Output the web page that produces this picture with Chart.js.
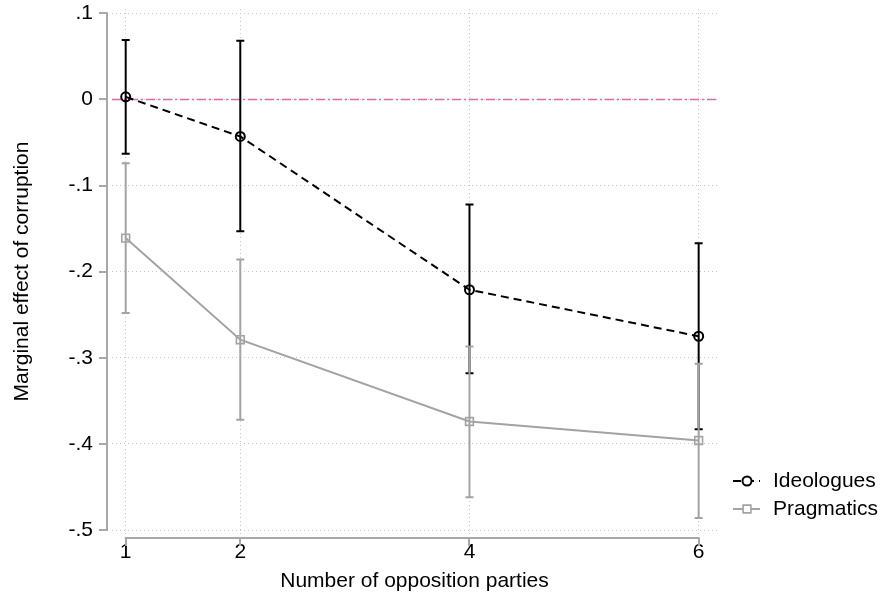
<!DOCTYPE html>
<html>
<head>
<meta charset="utf-8">
<script src="https://cdn.jsdelivr.net/npm/chart.js@4"></script>
<style>
  html, body { margin: 0; padding: 0; background: #fff; }
</style>
</head>
<body>
<canvas id="myChart" width="882" height="603"></canvas>
<script>
var parties = [1, 2, 4, 6]
var ideologues = [0.003, -0.043, -0.221, -0.275]
var ideologuesLow = [-0.063, -0.153, -0.318, -0.383]
var ideologuesHigh = [0.069, 0.068, -0.122, -0.167]
var pragmatics = [-0.161, -0.279, -0.374, -0.396]
var pragmaticsLow = [-0.248, -0.372, -0.462, -0.486]
var pragmaticsHigh = [-0.074, -0.186, -0.287, -0.307]
var xTicks = [1, 2, 4, 6]
var yTicks = [-0.5, -0.4, -0.3, -0.2, -0.1, 0, 0.1]
var yTickLabels = ['-.5', '-.4', '-.3', '-.2', '-.1', '0', '.1']

var fontFamily = "'Liberation Sans', Arial, sans-serif"
Chart.defaults.font.family = fontFamily
Chart.defaults.font.size = 21
Chart.defaults.color = '#000'

// zero line + confidence interval caps, under the lines
var errorBars = {
      id: 'errorBars',
      beforeDatasetsDraw: function (chart) {
            var ctx = chart.ctx, a = chart.chartArea
            var xs = chart.scales.x, ys = chart.scales.y
            ctx.save()
            var y0 = ys.getPixelForValue(0)
            ctx.strokeStyle = '#d86aae'
            ctx.lineWidth = 1.4
            ctx.setLineDash([9, 3, 2, 3])
            ctx.beginPath()
            ctx.moveTo(a.left, y0)
            ctx.lineTo(a.right, y0)
            ctx.stroke()
            ctx.setLineDash([])
            chart.data.datasets.forEach(function (ds) {
                  ctx.strokeStyle = ds.borderColor
                  ctx.lineWidth = 2
                  ds.data.forEach(function (p, i) {
                        var x = xs.getPixelForValue(p.x)
                        var yl = ys.getPixelForValue(ds.low[i])
                        var yh = ys.getPixelForValue(ds.high[i])
                        ctx.beginPath()
                        ctx.moveTo(x, yl); ctx.lineTo(x, yh)
                        ctx.moveTo(x - 4, yl); ctx.lineTo(x + 4, yl)
                        ctx.moveTo(x - 4, yh); ctx.lineTo(x + 4, yh)
                        ctx.stroke()
                  })
            })
            ctx.restore()
      }
}

// stata style axis lines, offset from the plot region
var stataAxes = {
      id: 'stataAxes',
      afterDraw: function (chart) {
            var ctx = chart.ctx, a = chart.chartArea
            var xs = chart.scales.x, ys = chart.scales.y
            var ax = Math.round(a.left) - 5, ay = Math.round(a.bottom) + 4
            ctx.save()
            ctx.strokeStyle = '#a8a8a8'
            ctx.lineWidth = 2
            ctx.beginPath()
            ctx.moveTo(ax, ys.getPixelForValue(yTicks[0]) + 1)
            ctx.lineTo(ax, ys.getPixelForValue(yTicks[yTicks.length - 1]) - 1)
            yTicks.forEach(function (v) {
                  var y = Math.round(ys.getPixelForValue(v))
                  ctx.moveTo(ax, y); ctx.lineTo(ax - 8, y)
            })
            ctx.moveTo(xs.getPixelForValue(xTicks[0]) - 1, ay)
            ctx.lineTo(xs.getPixelForValue(xTicks[xTicks.length - 1]) + 1, ay)
            xTicks.forEach(function (v) {
                  var x = Math.round(xs.getPixelForValue(v))
                  ctx.moveTo(x, ay); ctx.lineTo(x, ay + 8)
            })
            ctx.stroke()
            ctx.restore()
      }
}

var stataLegend = {
      id: 'stataLegend',
      afterDraw: function (chart) {
            var ctx = chart.ctx, a = chart.chartArea
            ctx.save()
            chart.data.datasets.forEach(function (ds, i) {
                  var y = a.bottom - 53 + i * 28
                  var x0 = a.right + 16
                  ctx.strokeStyle = ds.borderColor
                  ctx.lineWidth = ds.borderWidth
                  ctx.setLineDash(ds.borderDash || [])
                  ctx.beginPath()
                  ctx.moveTo(x0, y); ctx.lineTo(x0 + 27, y)
                  ctx.stroke()
                  ctx.setLineDash([])
                  ctx.fillStyle = '#fff'
                  ctx.lineWidth = ds.pointBorderWidth
                  ctx.beginPath()
                  if (ds.pointStyle === 'rect') {
                        var s = ds.pointRadius * Math.SQRT1_2
                        ctx.rect(x0 + 14 - s, y - s, 2 * s, 2 * s)
                  } else {
                        ctx.arc(x0 + 14, y, ds.pointRadius, 0, Math.PI * 2)
                  }
                  ctx.fill(); ctx.stroke()
                  ctx.fillStyle = '#000'
                  ctx.font = '21px ' + fontFamily
                  ctx.textBaseline = 'middle'
                  ctx.fillText(ds.label, x0 + 40, y)
            })
            ctx.restore()
      }
}

function toPoints(ys) {
      return parties.map(function (x, i) { return { x: x, y: ys[i] } })
}

var ctx = document.getElementById('myChart')
var myChart = new Chart(ctx, {
      type: 'line',
      data: {
            datasets: [{
                  label: 'Ideologues',
                  data: toPoints(ideologues),
                  low: ideologuesLow,
                  high: ideologuesHigh,
                  borderColor: '#000',
                  borderWidth: 2,
                  borderDash: [8, 5],
                  fill: false,
                  lineTension: 0,
                  pointStyle: 'circle',
                  pointRadius: 4.5,
                  pointBorderWidth: 2,
                  pointBorderColor: '#000',
                  pointBackgroundColor: 'rgba(0,0,0,0)'
            }, {
                  label: 'Pragmatics',
                  data: toPoints(pragmatics),
                  low: pragmaticsLow,
                  high: pragmaticsHigh,
                  borderColor: '#a3a3a3',
                  borderWidth: 2,
                  fill: false,
                  lineTension: 0,
                  pointStyle: 'rect',
                  pointRadius: 5.5,
                  pointBorderWidth: 1.6,
                  pointBorderColor: '#a3a3a3',
                  pointBackgroundColor: 'rgba(0,0,0,0)'
            }]
      },
      options: {
            animation: false,
            responsive: false,
            layout: { padding: { top: 9, right: 165, bottom: 0, left: 0 } },
            plugins: {
                  legend: { display: false },
                  tooltip: { enabled: false }
            },
            scales: {
                  x: {
                        type: 'linear',
                        min: 0.8805,
                        max: 6.16,
                        afterBuildTicks: function (scale) {
                              scale.ticks = xTicks.map(function (v) { return { value: v } })
                        },
                        afterFit: function (scale) {
                              scale.height = 69
                              scale.paddingLeft = 0; scale.paddingRight = 0
                        },
                        grid: { color: '#c8c8c8', drawTicks: false },
                        border: { display: false, dash: [1, 3] },
                        ticks: {
                              padding: 6,
                              maxRotation: 0,
                              callback: function (v) { return String(v) }
                        },
                        title: {
                              display: true,
                              text: 'Number of opposition parties',
                              padding: { top: 0, bottom: 9 }
                        }
                  },
                  y: {
                        type: 'linear',
                        min: -0.5046,
                        max: 0.105,
                        afterBuildTicks: function (scale) {
                              scale.ticks = yTicks.map(function (v) { return { value: v } })
                        },
                        afterFit: function (scale) {
                              scale.width = 112
                              scale.paddingTop = 0; scale.paddingBottom = 0
                        },
                        grid: { color: '#c8c8c8', drawTicks: false },
                        border: { display: false, dash: [1, 3] },
                        ticks: {
                              padding: 19,
                              callback: function (v) { return yTickLabels[yTicks.indexOf(v)] }
                        },
                        title: {
                              display: true,
                              text: 'Marginal effect of corruption',
                              padding: { top: 10, bottom: 0 }
                        }
                  }
            }
      },
      plugins: [errorBars, stataAxes, stataLegend]
})
</script>
</body>
</html>
